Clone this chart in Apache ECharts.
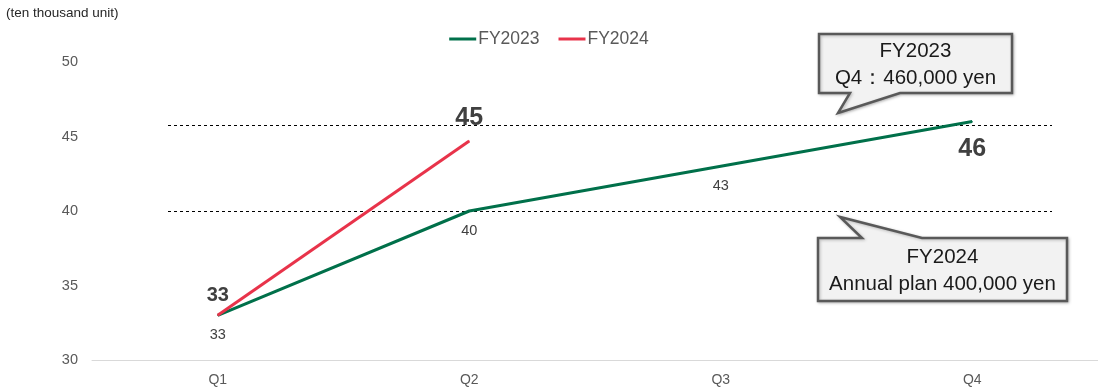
<!DOCTYPE html>
<html>
<head>
<meta charset="utf-8">
<script src="https://cdn.jsdelivr.net/npm/echarts@6/dist/echarts.min.js"></script>
<style>
  html, body { margin: 0; padding: 0; background: #fff; }
  #chart { width: 1098px; height: 389px; }
</style>
</head>
<body>
<div id="chart"></div>
<script>
// Quarterly values, in ten thousand yen
const quarters = ['Q1', 'Q2', 'Q3', 'Q4'];
const fy2023 = [33, 40, 43, 46];
const fy2024 = [33, 44.7, null, null];
const seriesNames = ['FY2023', 'FY2024'];
const yTicks = [30, 35, 40, 45, 50];
// Reference levels for the dashed guide lines
const refLevels = [45.8, 40];
const unitLabel = '(ten thousand unit)';
const calloutTop = ['FY2023', 'Q4\uff1a460,000 yen'];
const calloutBottom = ['FY2024', 'Annual plan 400,000 yen'];

const GREEN = '#00704a';
const RED = '#e8334a';
const FONT = '"Liberation Sans", Arial, sans-serif';

const fmt = p => String(Math.round(p.value));

// label styling per point: small gray label below, big bold label for highlighted points
function greenLabel(i) {
  if (i === 3) {
    return { show: true, position: 'bottom', distance: 15, fontSize: 25, fontWeight: 'bold', color: '#404040', formatter: fmt };
  }
  return { show: true, position: 'bottom', distance: 12, fontSize: 14.5, color: '#404040', formatter: fmt };
}
function redLabel(i) {
  if (i === 0) {
    return { show: true, position: 'top', distance: 9, fontSize: 20, fontWeight: 'bold', color: '#404040', formatter: fmt };
  }
  return { show: true, position: 'top', distance: 10, fontSize: 25, fontWeight: 'bold', color: '#404040', formatter: fmt };
}

const chart = echarts.init(document.getElementById('chart'), null, { renderer: 'canvas' });

const option = {
  animation: false,
  textStyle: { fontFamily: FONT },
  grid: { left: 92, right: 0, top: 62, bottom: 29 },
  legend: {
    top: 25,
    left: 'center',
    itemWidth: 27,
    itemHeight: 3,
    itemGap: 19,
    icon: 'rect',
    textStyle: { fontSize: 17.5, color: '#595959', fontFamily: FONT, padding: [0, 0, 0, -3] },
    data: seriesNames
  },
  xAxis: {
    type: 'category',
    data: quarters,
    boundaryGap: true,
    axisLine: { show: true, lineStyle: { color: '#d9d9d9', width: 1 } },
    axisTick: { show: false },
    axisLabel: { fontSize: 14, color: '#595959', margin: 13, fontFamily: FONT }
  },
  yAxis: {
    type: 'value',
    min: yTicks[0],
    max: yTicks[yTicks.length - 1],
    interval: yTicks[1] - yTicks[0],
    axisLine: { show: false },
    axisTick: { show: false },
    splitLine: { show: false },
    axisLabel: { fontSize: 14.5, color: '#595959', margin: 14, fontFamily: FONT }
  },
  series: [
    {
      name: seriesNames[0],
      type: 'line',
      color: GREEN,
      symbol: 'circle',
      symbolSize: 1,
      showSymbol: true,
      lineStyle: { width: 3, color: GREEN },
      data: fy2023.map((v, i) => ({ value: v, label: greenLabel(i) })),
      z: 3
    },
    {
      name: seriesNames[1],
      type: 'line',
      color: RED,
      symbol: 'circle',
      symbolSize: 1,
      showSymbol: true,
      lineStyle: { width: 3, color: RED },
      data: fy2024.map((v, i) => ({ value: v, label: redLabel(i) })),
      z: 4
    }
  ]
};

chart.setOption(option);

// Dashed guide lines, callouts and unit caption
const guideY = refLevels.map(v => chart.convertToPixel({ yAxisIndex: 0 }, v));
const graphics = [];

graphics.push({
  type: 'text',
  left: 6,
  top: 6,
  style: { text: unitLabel, font: '13.5px ' + FONT, fill: '#262626' }
});

guideY.forEach(y => {
  graphics.push({
    type: 'line',
    shape: { x1: 168, y1: Math.round(y) + 0.5, x2: 1052, y2: Math.round(y) + 0.5 },
    style: { stroke: '#000', lineWidth: 1, lineDash: [3, 3] },
    z: 1
  });
});

function callout(box, tip, baseA, baseB, lines, pointerDown) {
  const [x0, y0, x1, y1] = box;
  let pts;
  if (pointerDown) {
    pts = [[x0, y0], [x1, y0], [x1, y1], [baseB, y1], tip, [baseA, y1], [x0, y1]];
  } else {
    pts = [[x0, y0], [baseA, y0], tip, [baseB, y0], [x1, y0], [x1, y1], [x0, y1]];
  }
  graphics.push({
    type: 'polygon',
    shape: { points: pts },
    style: {
      fill: '#f2f2f2', stroke: '#595959', lineWidth: 2.5, lineJoin: 'miter',
      shadowBlur: 3, shadowColor: 'rgba(0,0,0,0.25)', shadowOffsetX: 1, shadowOffsetY: 1
    },
    z: 10
  });
  graphics.push({
    type: 'text',
    x: (x0 + x1) / 2,
    y: (y0 + y1) / 2 + 1,
    style: {
      text: lines.join('\n'),
      font: '20.5px ' + FONT,
      fill: '#1a1a1a',
      align: 'center',
      verticalAlign: 'middle',
      lineHeight: 27
    },
    z: 11
  });
}

callout([819, 34, 1012, 93], [838, 113], 850, 900, calloutTop, true);
callout([818, 238, 1067, 301], [840, 217], 862, 922, calloutBottom, false);

chart.setOption({ graphic: graphics });
</script>
</body>
</html>
